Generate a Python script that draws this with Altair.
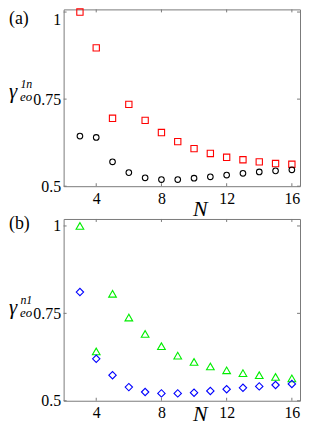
import altair as alt
import pandas as pd

# ---- data ----
N = list(range(3, 17))
red_squares = [1.0, 0.897, 0.695, 0.735, 0.689, 0.654, 0.628, 0.608, 0.594, 0.583, 0.576, 0.570, 0.565, 0.563]
black_circles = [0.644, 0.640, 0.570, 0.539, 0.524, 0.519, 0.519, 0.523, 0.527, 0.532, 0.537, 0.541, 0.544, 0.547]
green_triangles = [1.0, 0.641, 0.806, 0.738, 0.691, 0.656, 0.629, 0.611, 0.598, 0.587, 0.579, 0.573, 0.568, 0.564]
blue_diamonds = [0.811, 0.620, 0.573, 0.539, 0.525, 0.521, 0.521, 0.523, 0.528, 0.533, 0.537, 0.541, 0.545, 0.548]
x_ticks = [4, 8, 12, 16]
y_ticks = [0.5, 0.75, 1]

FONT = "Liberation Serif"
GRAY = "#7a7a7a"
W = 238
LX = -55


def panel(series, tag, sup, height, ytop, txt, top_label_down, title_y):
    xs = alt.Scale(domain=[2, 16.5], nice=False, zero=False)
    ys = alt.Scale(domain=[0.5, ytop], nice=False, zero=False)
    xaxis = alt.Axis(values=x_ticks, title="N", titleX=137, titleY=title_y)
    if top_label_down:
        yaxis = alt.Axis(values=y_ticks, format=".2~f", title=None,
                         labelBaseline={"condition": {"test": "datum.value == 1", "value": "top"},
                                        "value": "middle"})
    else:
        yaxis = alt.Axis(values=y_ticks, format=".2~f", title=None)
    X = lambda f: alt.X(f, scale=xs, axis=xaxis)
    Y = lambda f: alt.Y(f, scale=ys, axis=yaxis)
    layers = []
    for vals, shape, color, size in series:
        df = pd.DataFrame({"N": N, "v": vals})
        layers.append(
            alt.Chart(df).mark_point(shape=shape, filled=False, stroke=color, size=size,
                                     strokeWidth=1.1, opacity=1).encode(
                x=X("N:Q"), y=Y("v:Q"))
        )
    yt = pd.DataFrame({"t": y_ticks})
    xt = pd.DataFrame({"t": x_ticks})
    layers.append(alt.Chart(yt).mark_rule(color=GRAY).encode(
        y=Y("t:Q"), x=alt.value(0), x2=alt.value(3)))
    layers.append(alt.Chart(yt).mark_rule(color=GRAY).encode(
        y=Y("t:Q"), x=alt.value(W - 3), x2=alt.value(W)))
    layers.append(alt.Chart(xt).mark_rule(color=GRAY).encode(
        x=X("t:Q"), y=alt.value(height - 3), y2=alt.value(height)))
    layers.append(alt.Chart(xt).mark_rule(color=GRAY).encode(
        x=X("t:Q"), y=alt.value(0), y2=alt.value(3)))

    def label(s, x, y, size, style="normal", baseline="alphabetic"):
        return alt.Chart(pd.DataFrame({"s": [s]})).mark_text(
            font=FONT, fontSize=size, fontStyle=style, align="left", baseline=baseline,
            color="black").encode(text="s:N", x=alt.value(x), y=alt.value(y))

    layers.append(label(tag, LX, txt["tag"], 18, baseline="top"))
    layers.append(label("γ", LX, txt["g"], 21, "italic"))
    layers.append(label(sup, LX + 11.5, txt["sup"], 12, "italic"))
    layers.append(label("eo", LX + 11, txt["sub"], 13, "italic"))
    return alt.layer(*layers).properties(width=W, height=height)


top = panel([(red_squares, "square", "#ff0000", 40), (black_circles, "circle", "#000000", 32)],
            "(a)", "1n", 178, 1.0076, {"tag": 1, "g": 89, "sup": 79, "sub": 92.5}, True, 29)
bottom = panel([(green_triangles, "triangle-up", "#00ee00", 60), (blue_diamonds, "diamond", "#0000ff", 55)],
               "(b)", "n1", 183, 1.02, {"tag": -4, "g": 95.5, "sup": 85.5, "sub": 99}, False, 20)

chart = alt.vconcat(top, bottom, spacing=33, bounds="flush").properties(
    padding={"top": -4, "left": 0, "right": 1, "bottom": -4}
).configure_view(
    stroke=GRAY, strokeWidth=1
).configure_axis(
    domain=False, ticks=False, grid=False,
    labelFont=FONT, labelFontSize=16, labelColor="black",
    titleFont=FONT, titleFontSize=22, titleFontStyle="italic", titleFontWeight="normal",
    titleColor="black", titleBaseline="alphabetic", titleAlign="center"
).configure_axisX(labelPadding=4).configure_axisY(labelPadding=3)

chart.save("out.html", embed_options={"renderer": "svg", "actions": False})
